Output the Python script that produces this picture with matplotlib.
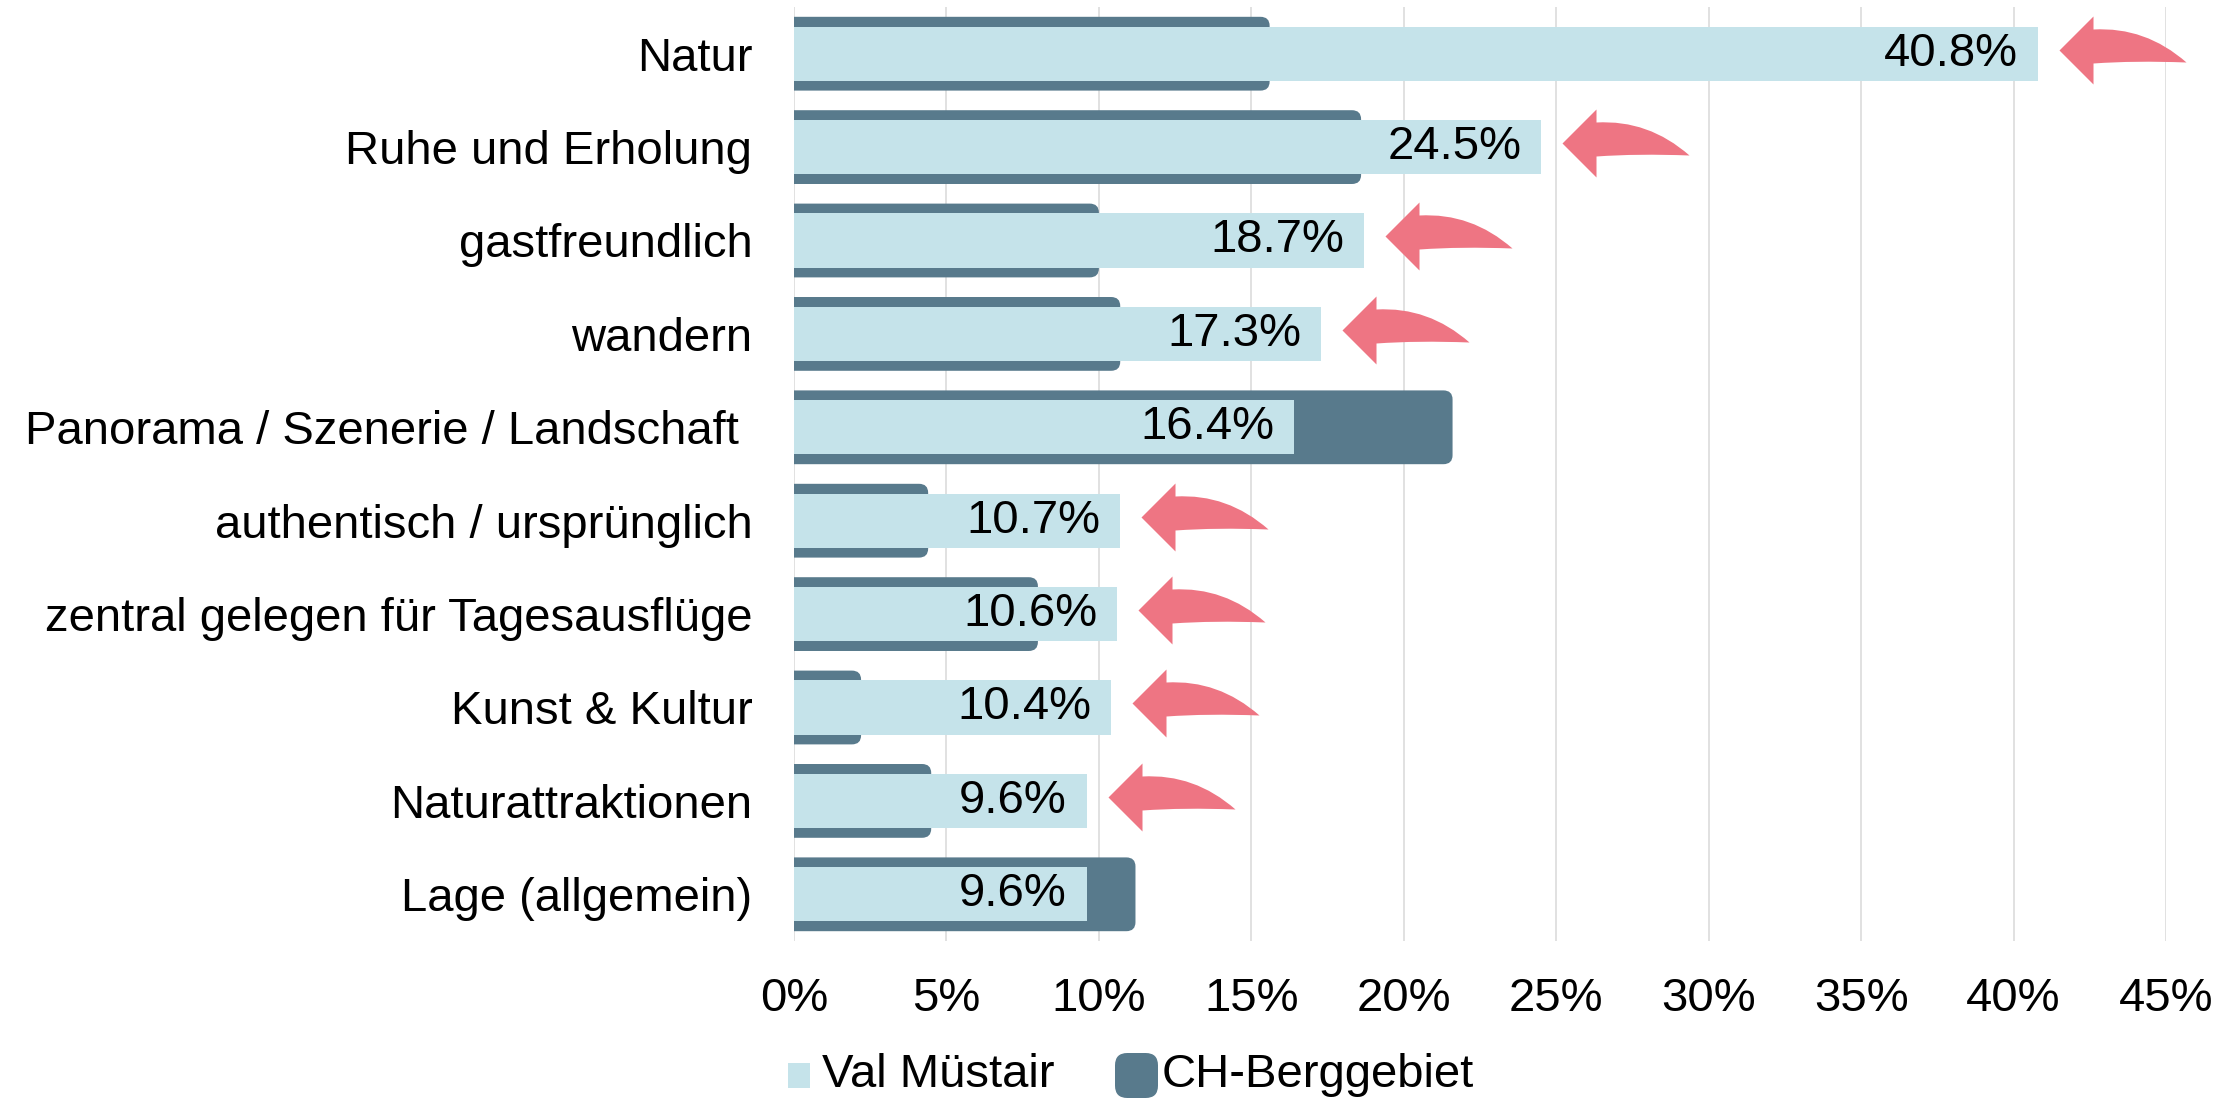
import numpy as np
import matplotlib
matplotlib.use("Agg")
import matplotlib.pyplot as plt
from matplotlib.path import Path
from matplotlib.patches import FancyBboxPatch, Rectangle

plt.rcParams['font.family'] = ['Liberation Sans', 'DejaVu Sans']

# data
categories = [
    "Natur",
    "Ruhe und Erholung",
    "gastfreundlich",
    "wandern",
    "Panorama / Szenerie / Landschaft ",
    "authentisch / ursprünglich",
    "zentral gelegen für Tagesausflüge",
    "Kunst & Kultur",
    "Naturattraktionen",
    "Lage (allgemein)",
]
val_muestair = [40.8, 24.5, 18.7, 17.3, 16.4, 10.7, 10.6, 10.4, 9.6, 9.6]
ch_berggebiet = [15.6, 18.6, 10.0, 10.7, 21.6, 4.4, 8.0, 2.2, 4.5, 11.2]
xticks = [0, 5, 10, 15, 20, 25, 30, 35, 40, 45]

LIGHT = "#C5E3EA"
DARK = "#587A8C"
PINK = "#EE7583"
GRID = "#D9D9D9"
FS = 34

DPI = 100
fig = plt.figure(figsize=(22.39, 11), dpi=DPI)
ax = fig.add_axes([794 / 2239, 1 - 941 / 1100, (2166 - 794) / 2239, (941 - 7) / 1100])

ax.set_xlim(0, 45)
ax.set_ylim(len(categories) - 0.5, -0.5)

# dark bars with rounded right end
for i, v in enumerate(ch_berggebiet):
    h = 0.79
    box = FancyBboxPatch((-1, i - h / 2), v + 1, h,
                         boxstyle="round,pad=0,rounding_size=0.3",
                         mutation_aspect=0.32, facecolor=DARK,
                         edgecolor="none", zorder=2)
    ax.add_patch(box)

ax.barh(np.arange(len(categories)), val_muestair, height=0.58,
        color=LIGHT, zorder=3)

for i, v in enumerate(val_muestair):
    ax.text(v - 0.65, i, f"{v:.1f}%", ha="right", va="center",
            fontsize=FS, color="black", zorder=4)

# curved arrow marker (px, y up, origin = bar end / row centre)
verts = [(21, 4), (55, 38), (55, 25), (107, 28), (148, -8),
         (96, -6), (55, -9), (55, -30), (21, 4)]
codes = [Path.MOVETO, Path.LINETO, Path.LINETO, Path.CURVE3, Path.CURVE3,
         Path.CURVE3, Path.CURVE3, Path.LINETO, Path.CLOSEPOLY]
arrow = Path(verts, codes)
R = max(abs(c) for p in verts for c in p)
ms = 2 * R * 72 / DPI

for i, (v, c) in enumerate(zip(val_muestair, ch_berggebiet)):
    if v > c:
        ax.plot([v], [i], linestyle="none", marker=arrow, markersize=ms,
                color=PINK, markeredgewidth=0, clip_on=False, zorder=5)

ax.set_yticks(np.arange(len(categories)), categories, fontsize=FS)
ax.set_xticks(xticks, [f"{t}%" for t in xticks], fontsize=FS)
ax.tick_params(axis="y", length=0, pad=30)
ax.tick_params(axis="x", length=0, pad=26)
ax.grid(axis="x", color=GRID, linewidth=1.1, zorder=0)
ax.set_axisbelow(True)
for s in ax.spines.values():
    s.set_visible(False)

# legend
fig.patches.append(Rectangle((788 / 2239, 1 - 1088 / 1100), 22 / 2239, 25 / 1100,
                             transform=fig.transFigure, facecolor=LIGHT,
                             edgecolor="none"))
fig.text(822 / 2239, 1 - 1075 / 1100, "Val Müstair", fontsize=FS,
         va="center", ha="left")
fig.patches.append(FancyBboxPatch((1115 / 2239, 1 - 1098 / 1100), 43 / 2239, 45 / 1100,
                                  boxstyle="round,pad=0,rounding_size=0.0055",
                                  mutation_aspect=2239 / 1100,
                                  transform=fig.transFigure, facecolor=DARK,
                                  edgecolor="none"))
fig.text(1162 / 2239, 1 - 1075 / 1100, "CH-Berggebiet", fontsize=FS,
         va="center", ha="left")

fig.savefig("out.png", dpi=DPI)
